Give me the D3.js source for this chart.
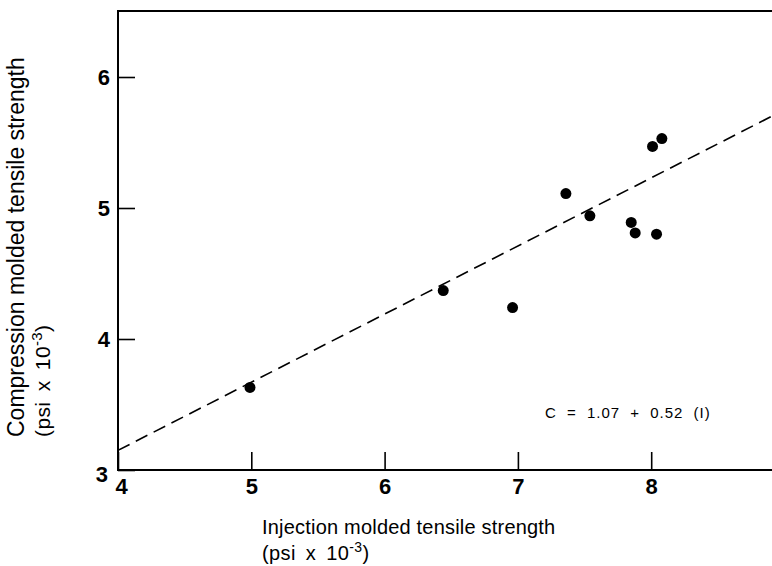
<!DOCTYPE html>
<html>
<head>
<meta charset="utf-8">
<script src="https://cdn.jsdelivr.net/npm/d3@7"></script>
<style>
  html, body { margin: 0; padding: 0; background: #fff; }
  svg { display: block; font-family: "Liberation Sans", Arial, Helvetica, sans-serif; }
</style>
</head>
<body>
<svg id="chart" width="772" height="566"></svg>
<script>
// ---- data ----
const injection   = [4.99, 6.44, 6.96, 7.36, 7.54, 7.85, 7.88, 8.04, 8.01, 8.08];
const compression = [3.63, 4.37, 4.24, 5.11, 4.94, 4.89, 4.81, 4.80, 5.47, 5.53];
const fitIntercept = 1.07;
const fitSlope = 0.52;
const xTicks = [4, 5, 6, 7, 8];
const yTicks = [3, 4, 5, 6];
const xTitle = "Injection molded tensile strength";
const yTitle = "Compression molded tensile strength";
const unitText = "(psi x 10";
const unitExp = "-3";
const equationText = "C = 1.07 + 0.52 (I)";

// ---- layout ----
const svg = d3.select("#chart");
const pL = 118, pR = 772, pT = 11, pB = 470;
const x = d3.scaleLinear().domain([4, 4 + (pR - pL) / 133.3]).range([pL, pR]);
const y = d3.scaleLinear().domain([3, 3 + (pB - pT) / 131]).range([pB, pT]);

svg.append("defs").append("clipPath").attr("id", "plot")
  .append("rect").attr("x", pL).attr("y", pT).attr("width", pR - pL).attr("height", pB - pT);

// x axis
const xAxis = d3.axisBottom(x).tickValues(xTicks).tickFormat(d3.format("d"))
  .tickSizeInner(-18).tickSizeOuter(0).tickPadding(8);
const gx = svg.append("g").attr("transform", `translate(0,${pB})`).call(xAxis);
gx.select(".domain").remove();
gx.selectAll(".tick line").attr("stroke", "#000").attr("stroke-width", 1.6);
gx.selectAll(".tick text").attr("font-size", 22).attr("font-weight", 600).attr("fill", "#000")
  .attr("font-family", "Liberation Sans, Arial, sans-serif");
gx.selectAll(".tick").filter(d => d === 4).select("text").attr("dx", 3);

// y axis
const yAxis = d3.axisLeft(y).tickValues(yTicks).tickFormat(d3.format("d"))
  .tickSizeInner(-17).tickSizeOuter(0).tickPadding(8);
const gy = svg.append("g").attr("transform", `translate(${pL},0)`).call(yAxis);
gy.select(".domain").remove();
gy.selectAll(".tick line").attr("stroke", "#000").attr("stroke-width", 1.6);
gy.selectAll(".tick text").attr("font-size", 22).attr("font-weight", 600).attr("fill", "#000")
  .attr("font-family", "Liberation Sans, Arial, sans-serif");
gy.selectAll(".tick").filter(d => d === 3).select("text").attr("dx", -2).attr("dy", "0.5em");

// frame lines (left, bottom, top)
const frame = svg.append("g").attr("stroke", "#000").attr("stroke-width", 2).attr("fill", "none");
frame.append("path").attr("d", `M${pR},${pT}H${pL}V${pB}H${pR}`);

// fit line
const fitX = x.domain();
svg.append("line")
  .attr("clip-path", "url(#plot)")
  .attr("x1", x(fitX[0])).attr("y1", y(fitIntercept + fitSlope * fitX[0]))
  .attr("x2", x(fitX[1])).attr("y2", y(fitIntercept + fitSlope * fitX[1]))
  .attr("stroke", "#000").attr("stroke-width", 1.6).attr("stroke-dasharray", "13,7");

// points
svg.append("g").selectAll("circle").data(injection.map((v, i) => [v, compression[i]]))
  .join("circle")
  .attr("cx", d => x(d[0])).attr("cy", d => y(d[1])).attr("r", 5.5).attr("fill", "#000");

// equation
svg.append("text").attr("x", 545).attr("y", 418)
  .attr("font-size", 15).attr("letter-spacing", 1.0).attr("word-spacing", 5)
  .attr("fill", "#000").text(equationText);

// x title
const xt = svg.append("g").attr("font-size", 20).attr("fill", "#000");
xt.append("text").attr("x", 262).attr("y", 534).attr("letter-spacing", 0.2).text(xTitle);
const xu = xt.append("text").attr("x", 262).attr("y", 560)
  .attr("letter-spacing", 0.4).attr("word-spacing", 4);
xu.append("tspan").text(unitText);
xu.append("tspan").attr("dy", -8).attr("font-size", 14).text(unitExp);
xu.append("tspan").attr("dy", 8).text(")");

// y title
const yt = svg.append("g").attr("fill", "#000")
  .attr("transform", "translate(0,437) rotate(-90)");
yt.append("text").attr("x", 0).attr("y", 24).attr("font-size", 23).text(yTitle);
const yu = yt.append("text").attr("x", 0).attr("y", 50).attr("font-size", 21)
  .attr("letter-spacing", 0.4).attr("word-spacing", 4);
yu.append("tspan").text(unitText);
yu.append("tspan").attr("dy", -8).attr("font-size", 15).text(unitExp);
yu.append("tspan").attr("dy", 8).text(")");
</script>
</body>
</html>
